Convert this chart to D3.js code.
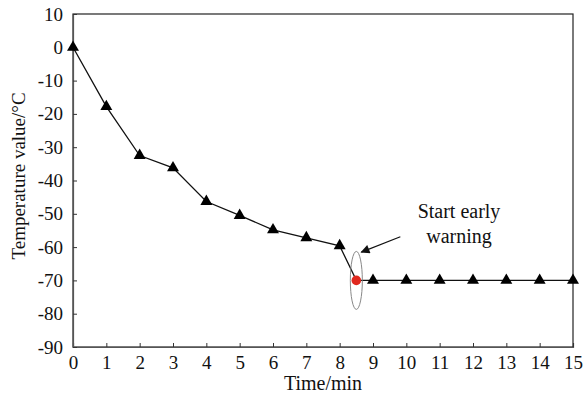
<!DOCTYPE html>
<html>
<head>
<meta charset="utf-8">
<script src="https://cdn.jsdelivr.net/npm/d3@7"></script>
<style>
  body { margin: 0; background: #fff; }
</style>
</head>
<body>
<svg id="chart" width="584" height="401"></svg>
<script>
// Temperature readings over time (minutes)
const times = [0, 1, 2, 3, 4, 5, 6, 7, 8, 9, 10, 11, 12, 13, 14, 15];
const temps = [0, -17.8, -32.5, -36.2, -46.3, -50.5, -54.8, -57.2, -59.6, -70, -70, -70, -70, -70, -70, -70];
// Moment the early warning starts
const warnTime = 8.5;
const warnTemp = -70;
const xTicks = d3.range(0, 16, 1);
const yTicks = d3.range(-90, 11, 10);
const annotationLines = ["Start early", "warning"];

const FONT = "'Liberation Serif', 'Times New Roman', serif";
const svg = d3.select("#chart").style("font-family", FONT);
const m = { left: 73, right: 11, top: 14, bottom: 54 };
const W = 584, H = 401;

const x = d3.scaleLinear().domain([0, 15]).range([m.left, W - m.right]);
const y = d3.scaleLinear().domain([-90, 10]).range([H - m.bottom, m.top]);

// Frame
svg.append("rect")
  .attr("x", x(0)).attr("y", y(10))
  .attr("width", x(15) - x(0)).attr("height", y(-90) - y(10))
  .attr("fill", "none").attr("stroke", "#222").attr("stroke-width", 1.2);

// Axes with inward ticks; labels use a plain hyphen for negatives
const fmt = d => String(d);
const xAxis = svg.append("g")
  .attr("transform", `translate(0,${y(-90)})`)
  .call(d3.axisBottom(x).tickValues(xTicks).tickSize(-4).tickPadding(10).tickFormat(fmt));
const yAxis = svg.append("g")
  .attr("transform", `translate(${x(0)},0)`)
  .call(d3.axisLeft(y).tickValues(yTicks).tickSize(-4).tickPadding(10).tickFormat(fmt));
[xAxis, yAxis].forEach(g => {
  g.attr("font-family", FONT).attr("font-size", 19);
  g.select(".domain").attr("stroke", "#555").attr("stroke-width", 1.2);
  g.selectAll(".tick line").attr("stroke", "#333");
  g.selectAll(".tick text")
    .attr("fill", "#111")
    .style("font-family", FONT)
    .style("font-size", "19px");
});
xAxis.selectAll(".tick text").attr("y", 8).attr("dy", "0.75em");
yAxis.selectAll(".tick text").attr("x", -10);

// Series: points up to 8 min, the warning point, then the plateau
const series = times.map((t, i) => ({ t, v: temps[i] }));
const linePts = series.filter(d => d.t <= 8)
  .concat([{ t: warnTime, v: warnTemp }])
  .concat(series.filter(d => d.t > 8));

svg.append("path")
  .datum(linePts)
  .attr("fill", "none").attr("stroke", "#111").attr("stroke-width", 1.3)
  .attr("d", d3.line().x(d => x(d.t)).y(d => y(d.v)));

const tri = d3.symbol().type(d3.symbolTriangle).size(62);
svg.append("g").selectAll("path")
  .data(series)
  .join("path")
  .attr("transform", d => `translate(${x(d.t)},${y(d.v)})`)
  .attr("d", tri)
  .attr("fill", "#000");

// Ellipse around the warning point
svg.append("ellipse")
  .attr("cx", x(warnTime)).attr("cy", y(warnTemp))
  .attr("rx", 6).attr("ry", 29)
  .attr("fill", "none").attr("stroke", "#888").attr("stroke-width", 1);

svg.append("circle")
  .attr("cx", x(warnTime)).attr("cy", y(warnTemp)).attr("r", 4.8)
  .attr("fill", "#e0281e");

// Arrow pointing at the ellipse
svg.append("defs").append("marker")
  .attr("id", "arrow").attr("viewBox", "0 0 10 10")
  .attr("refX", 9).attr("refY", 5)
  .attr("markerWidth", 12).attr("markerHeight", 9)
  .attr("markerUnits", "userSpaceOnUse")
  .attr("orient", "auto")
  .append("path").attr("d", "M0,0 L10,5 L0,10 Z").attr("fill", "#111");

svg.append("line")
  .attr("x1", x(warnTime + 1.32)).attr("y1", y(warnTemp + 13.1))
  .attr("x2", x(warnTime + 0.15)).attr("y2", y(warnTemp + 8.5))
  .attr("stroke", "#111").attr("stroke-width", 1.2)
  .attr("marker-end", "url(#arrow)");

svg.append("g").selectAll("text")
  .data(annotationLines)
  .join("text")
  .attr("x", 459).attr("y", (d, i) => 218 + i * 25)
  .attr("text-anchor", "middle")
  .attr("fill", "#111")
  .style("font-size", "20px")
  .text(d => d);

// Axis titles
svg.append("text")
  .attr("x", (x(0) + x(15)) / 2).attr("y", 390)
  .attr("text-anchor", "middle").style("font-size", "20px")
  .attr("fill", "#111")
  .text("Time/min");

svg.append("text")
  .attr("transform", `translate(25,${176}) rotate(-90)`)
  .attr("text-anchor", "middle").style("font-size", "19px")
  .attr("fill", "#111")
  .text("Temperature value/°C");
</script>
</body>
</html>
